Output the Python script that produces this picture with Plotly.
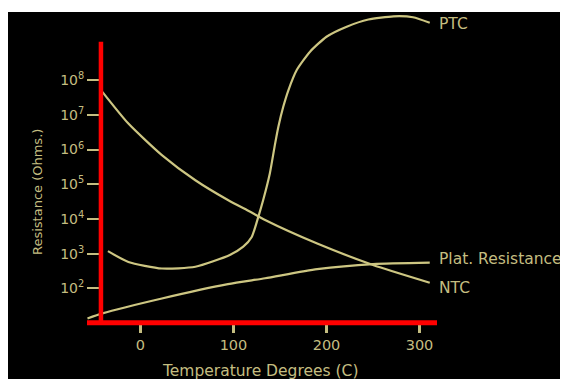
import numpy as np
import plotly.graph_objects as go

# Temperature (deg C) and resistance (Ohms)
ntc_temp = [-41, -13, 23, 59, 94, 118, 134, 190, 250, 311]
ntc_res = [4.6e7, 5.6e6, 6.9e5, 1.3e5, 3.5e4, 1.6e4, 9.3e3, 1.95e3, 470, 145]

plat_temp = [-57, -41, 23, 94, 134, 190, 250, 311]
plat_res = [13.5, 19, 51, 132, 195, 355, 500, 550]

ptc_temp = [-35, -13, 23, 59, 96, 110.5, 119.6, 126.7, 132, 139, 144.6, 148.2, 153.5, 159,
            168, 182.3, 200, 221.7, 245, 272, 293, 311]
ptc_res = [1175, 575, 372, 417, 912, 1585, 3020, 1.15e4, 3.55e4, 2.0e5, 1.41e6, 4.47e6,
           1.7e7, 5.1e7, 1.95e8, 6.6e8, 1.78e9, 3.47e9, 5.6e9, 6.9e9, 6.5e9, 4.5e9]

x_ticks = [0, 100, 200, 300]
y_tickvals = [1e2, 1e3, 1e4, 1e5, 1e6, 1e7, 1e8]
y_ticktext = ["10<sup>%d</sup>" % e for e in range(2, 9)]

LINE = "#cdc682"
TEXT = "#c4bd80"
RED = "#ff0000"
FONT = "DejaVu Sans, Liberation Sans, Arial, sans-serif"

fig = go.Figure()
for name, t, r in [("PTC", ptc_temp, ptc_res), ("Plat. Resistance", plat_temp, plat_res),
                   ("NTC", ntc_temp, ntc_res)]:
    fig.add_trace(go.Scatter(x=t, y=r, mode="lines", name=name,
                             line=dict(color=LINE, width=2.2, shape="spline", smoothing=0.6),
                             showlegend=False, hoverinfo="skip"))

# curve end labels
for name, t, r, ys in [("PTC", ptc_temp, ptc_res, -1), ("Plat. Resistance", plat_temp, plat_res, 4),
                       ("NTC", ntc_temp, ntc_res, -5)]:
    fig.add_annotation(x=t[-1], y=np.log10(r[-1]), text=name, showarrow=False,
                       xanchor="left", yanchor="middle", xshift=7, yshift=ys,
                       font=dict(family=FONT, size=15.5, color=TEXT))

# axis titles
fig.add_annotation(xref="paper", yref="paper", x=-0.143, y=0.421, text="Resistance (Ohms.)",
                   textangle=-90, showarrow=False, xanchor="center", yanchor="middle",
                   font=dict(family=FONT, size=13, color=TEXT))
fig.add_annotation(xref="paper", yref="paper", x=0.493, y=-0.154, text="Temperature Degrees (C)",
                   showarrow=False, xanchor="center", yanchor="middle",
                   font=dict(family=FONT, size=15.5, color=TEXT))

shapes = [
    # red axis lines
    dict(type="line", xref="x", yref="paper", x0=-42.5, x1=-42.5, y0=0, y1=0.9045,
         line=dict(color=RED, width=4.5)),
    dict(type="line", xref="paper", yref="paper", x0=0, x1=1, y0=0.001, y1=0.001,
         line=dict(color=RED, width=5)),
    # thin white band at the top of the original picture
    dict(type="rect", xref="paper", yref="paper", x0=-0.5, x1=1.5, y0=1.0, y1=1.2,
         fillcolor="white", line=dict(width=0)),
]

fig.update_layout(
    width=568, height=379,
    margin=dict(l=79, r=139, t=4, b=64),
    paper_bgcolor="black", plot_bgcolor="black",
    shapes=shapes,
    xaxis=dict(range=[-57.5, 318.8], tickvals=x_ticks, ticks="outside", ticklen=9,
               tickwidth=2.5, tickcolor=TEXT, showgrid=False, zeroline=False, showline=False,
               tickfont=dict(family=FONT, size=14.5, color=TEXT), anchor="y"),
    yaxis=dict(type="log", range=[1, 9.963], tickvals=y_tickvals, ticktext=y_ticktext,
               ticks="outside", ticklen=12, tickwidth=2, tickcolor=TEXT,
               showgrid=False, zeroline=False, showline=False,
               anchor="free", position=0.0343,
               tickfont=dict(family=FONT, size=14, color=TEXT)),
)

fig.write_html("out.html")
